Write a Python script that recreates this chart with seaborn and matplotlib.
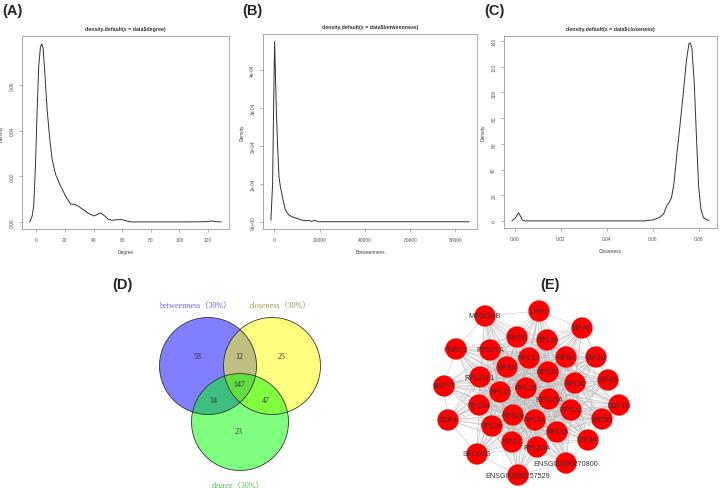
import itertools
import matplotlib
matplotlib.use("Agg")
import matplotlib.pyplot as plt
from matplotlib.patches import Circle
import seaborn as sns

deg_x = [-4.7, -3.0, -1.9, -0.7, 0.5, 1.6, 2.8, 3.75, 4.7, 5.9, 7.5, 9.4, 11.0, 13.4, 16.9,
         20.4, 23.9, 26.7, 29.8, 33.3, 36.8, 40.3, 42.7, 45.0, 47.3, 50.2, 53.2, 56.7, 60.2,
         63.3, 66.1, 80.2, 103.6, 118.8, 122.4, 125.9, 129.4]
deg_y = [0, 0.0026, 0.007, 0.024, 0.049, 0.068, 0.0767, 0.0779, 0.076, 0.065, 0.049, 0.036,
         0.0273, 0.0208, 0.0157, 0.0113, 0.0078, 0.0077, 0.0067, 0.0051, 0.0036, 0.0026,
         0.0033, 0.0039, 0.0029, 0.0012, 0.0007, 0.0010, 0.0010, 0.0004, 0, 0, 0, 0.0001,
         0.0004, 0.0001, 0]

btw_x = [-1480, -740, -300, 150, 890, 1480, 2070, 2670, 3850, 4890, 6370, 7850, 10070,
         12300, 14500, 15260, 16300, 17800, 19700, 86000]
btw_y = [0.04e-4, 1.0e-4, 3.0e-4, 4.75e-4, 2.96e-4, 1.99e-4, 1.19e-4, 0.93e-4, 0.58e-4,
         0.31e-4, 0.18e-4, 0.13e-4, 0.09e-4, 0.04e-4, 0.03e-4, 0.04e-4, 0.01e-4, 0.035e-4,
         0, 0]

clo_x = [-0.0013, 0.0004, 0.0016, 0.0024, 0.0033, 0.0044, 0.0563, 0.0602, 0.0628, 0.0647,
         0.0661, 0.0671, 0.0682, 0.0693, 0.0707, 0.0718, 0.0733, 0.0747, 0.0758, 0.0764,
         0.0771, 0.0781, 0.0793, 0.0800, 0.0810, 0.0821, 0.0846]
clo_y = [0, 2.6, 6.4, 3.9, 0.8, 0, 0, 0.8, 2.6, 5.2, 11.6, 14.2, 18, 29.6, 55, 73, 99, 125,
         138, 138.4, 134, 107, 55, 27, 9, 2.6, 0]

# ---- venn (D) ----
venn_sets = ["betweenness（30%）", "closeness（30%）", "degree（30%）"]
venn_counts = {"b": 58, "bc": 12, "c": 25, "bcd": 147, "bd": 14, "cd": 47, "d": 23}

# ---- network (E) ----
nodes = ["UPP1", "MAGOHB", "EIF4E", "RPS5", "RPL30", "PNRC2", "RPS27A", "RPS9", "EIF3M",
         "RPL31", "RPS6", "RPS27", "RPL22L1", "EIF4B", "SRP72", "RPL32", "RPL18", "RPL11",
         "RPS15A", "EEF1D", "RPS14", "RPS11", "SSR4", "EIF5B", "RPS24", "RPL14", "RPL29",
         "RPL35", "EIF3A", "RPS7", "RPL35A", "SEC61G", "ENSG00000270800", "ENSG00000257529"]
node_x = [539, 485, 582, 517, 547, 456, 490, 566, 596, 529, 507, 548, 480, 608, 444, 575,
          526, 500, 549, 619, 479, 571, 448, 602, 513, 535, 492, 557, 588, 512, 537, 477,
          566, 518]
node_y = [312, 317, 329, 338, 341, 350, 351, 358, 358, 359, 368, 373, 378, 381, 387, 384,
          389, 393, 400, 406, 406, 411, 421, 420, 416, 421, 427, 433, 441, 443, 448, 455,
          464, 476]
ring_links = [("MAGOHB", "UPP1"), ("UPP1", "EIF4E"), ("EIF4E", "EIF3M"), ("EIF3M", "EIF4B"),
              ("EIF4B", "EEF1D"), ("EEF1D", "EIF5B"), ("EIF5B", "EIF3A"), ("EIF4E", "EIF4B"),
              ("EIF3M", "EIF3A"), ("EIF3A", "ENSG00000270800"),
              ("ENSG00000270800", "ENSG00000257529"), ("ENSG00000257529", "SEC61G"),
              ("SEC61G", "SSR4"), ("SSR4", "SRP72"), ("SRP72", "PNRC2"), ("PNRC2", "MAGOHB")]

W, H = 720, 489
sns.set_theme(style="white")
plt.rcParams["font.family"] = ["Liberation Sans", "DejaVu Sans"]
fig = plt.figure(figsize=(W / 100, H / 100), dpi=100)


def px_axes(l, t, r, b):
    return fig.add_axes([l / W, 1 - b / H, (r - l) / W, (b - t) / H])


def density_panel(rect, x, y, title, xlabel, xticks, xtl, yticks, ytl, xlim, ylim):
    ax = px_axes(*rect)
    sns.lineplot(x=x, y=y, ax=ax, color="#333333", linewidth=0.7, sort=False, estimator=None)
    ax.set_xlim(*xlim)
    ax.set_ylim(*ylim)
    ax.set_xticks(xticks)
    ax.set_xticklabels(xtl)
    ax.set_yticks(yticks)
    ax.set_yticklabels(ytl, rotation=90, va="center")
    ax.tick_params(labelsize=3.5, labelcolor="#555555", length=2.5, width=0.5,
                   color="#888888", pad=3, left=True, bottom=True)
    for s in ax.spines.values():
        s.set_color("#999999")
        s.set_linewidth(0.6)
    ax.set_title(title, fontsize=3.8, fontweight="bold", color="#333333", pad=4)
    ax.set_xlabel(xlabel, fontsize=3.5, color="#444444", labelpad=5)
    ax.set_ylabel("Density", fontsize=3.5, color="#444444", labelpad=4)
    return ax


density_panel((22, 37, 229, 230), deg_x, deg_y, r"density.default(x = data\$degree)", "Degree",
              [0, 20, 40, 60, 80, 100, 120], ["0", "20", "40", "60", "80", "100", "120"],
              [0, 0.02, 0.04, 0.06], ["0.00", "0.02", "0.04", "0.06"],
              (-10.1, 134.8), (-0.0031, 0.0814))
density_panel((263, 35, 477, 230), btw_x, btw_y, r"density.default(x = data\$betweenness)",
              "Betweenness",
              [0, 20000, 40000, 60000, 80000], ["0", "20000", "40000", "60000", "80000"],
              [0, 1e-4, 2e-4, 3e-4, 4e-4], ["0e+00", "1e-04", "2e-04", "3e-04", "4e-04"],
              (-4980, 89500), (-0.19e-4, 4.94e-4))
density_panel((504, 37, 717, 229), clo_x, clo_y, r"density.default(x = data\$closeness)",
              "Closeness",
              [0, 0.02, 0.04, 0.06, 0.08], ["0.00", "0.02", "0.04", "0.06", "0.08"],
              [0, 20, 40, 60, 80, 100, 120, 140], ["0", "20", "40", "60", "80", "100", "120", "140"],
              (-0.0047, 0.088), (-5.5, 143.9))

# panel letters
for lab, x, y in [("(A)", 2, 11), ("(B)", 242, 11), ("(C)", 484, 11), ("(D)", 112, 285),
                  ("(E)", 540, 285)]:
    fig.text(x / W, 1 - y / H, lab, fontsize=10.5, fontweight="bold", va="center", ha="left")

# ---- Venn ----
axd = px_axes(100, 255, 400, 489)
axd.set_xlim(100, 400)
axd.set_ylim(489, 255)
axd.axis("off")
serif = ["Liberation Serif", "Noto Sans CJK SC"]
for (cx, cy), col in zip([(208, 367), (272, 367), (240, 423)], ["#0000ff", "#ffff00", "#00ff00"]):
    axd.add_patch(Circle((cx, cy), 48.5, facecolor=col, alpha=0.5, edgecolor="none"))
for cx, cy in [(208, 367), (272, 367), (240, 423)]:
    axd.add_patch(Circle((cx, cy), 48.5, facecolor="none", edgecolor="#333333", linewidth=0.6))
for key, (tx, ty) in zip(["b", "bc", "c", "bcd", "bd", "cd", "d"],
                         [(197, 357), (239, 357), (282, 357), (239, 385), (213, 401),
                          (266, 401), (239, 432)]):
    axd.text(tx, ty, str(venn_counts[key]), ha="center", va="center", fontsize=5.8,
             color="#333333", family=serif)
for name, (tx, ty), col in zip(venn_sets, [(195, 305), (280, 305), (238, 485)],
                               ["#6666ff", "#999955", "#55bb55"]):
    axd.text(tx, ty, name, ha="center", va="center", fontsize=5.9, color=col, family=serif)

# ---- Network ----
axe = px_axes(430, 290, 640, 489)
pos = {n: (x, y) for n, x, y in zip(nodes, node_x, node_y)}
core = [n for n in nodes if n.startswith("RP")]
periph = [n for n in nodes if n not in core]
edges = list(itertools.combinations(core, 2)) + [(p, c) for p in periph for c in core] + ring_links
for a, b in edges:
    axe.plot([pos[a][0], pos[b][0]], [pos[a][1], pos[b][1]], color="#bdbdbd",
             linewidth=0.35, zorder=1)
axe.scatter(node_x, node_y, s=235, color="#ff0000", edgecolors="none", zorder=3)
for n, x, y in zip(nodes, node_x, node_y):
    axe.text(x, y, n, ha="center", va="center", fontsize=5.2, color="#333333", zorder=10)
axe.set_xlim(430, 640)
axe.set_ylim(489, 290)
axe.axis("off")

fig.savefig("out.png", dpi=100)
